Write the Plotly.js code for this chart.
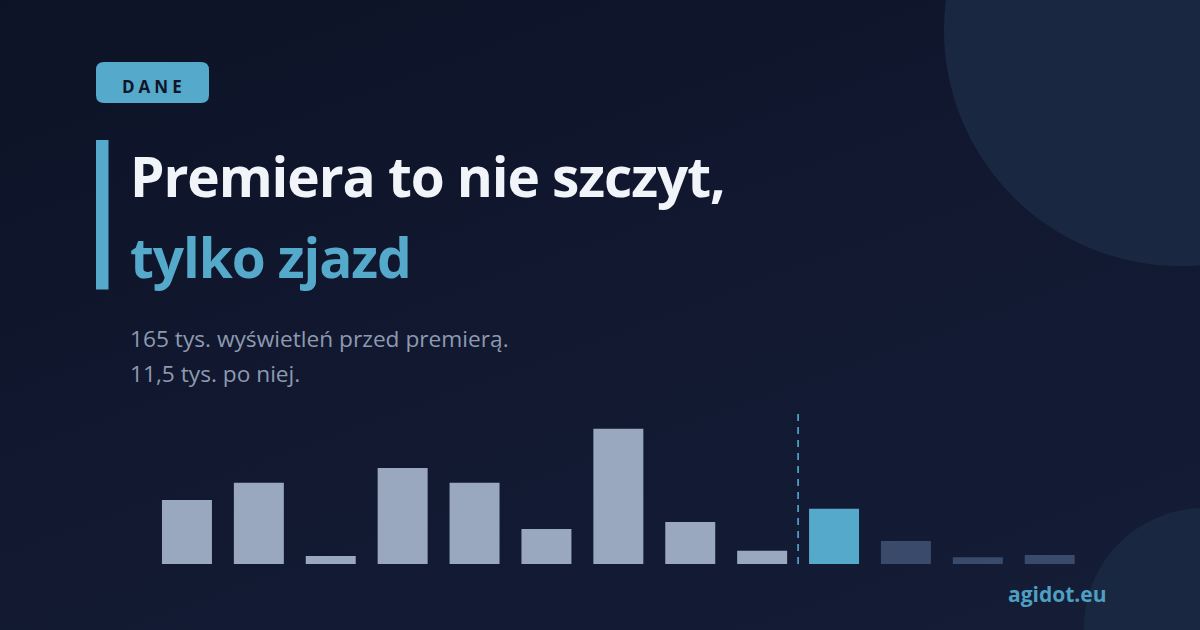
<!DOCTYPE html>
<html>
<head>
<meta charset="utf-8">
<script src="https://cdn.plot.ly/plotly-3.0.1.min.js"></script>
<style>
  html, body { margin: 0; padding: 0; }
  body { width: 1200px; height: 630px; overflow: hidden;
         background: linear-gradient(160deg, #0d1326 0%, #111830 50%, #151d37 100%); }
  #chart { width: 1200px; height: 630px; }
</style>
</head>
<body>
<div id="chart"></div>
<script>
// Views (thousands) per period; index 9 is the premiere
const periods = ['t-9','t-8','t-7','t-6','t-5','t-4','t-3','t-2','t-1','premiera','t+1','t+2','t+3'];
const views = [19.0, 24.1, 2.4, 28.5, 24.1, 10.4, 40.1, 12.5, 3.9, 16.4, 6.8, 2.0, 2.7];
const premiereIndex = 9;

const W = 1200, H = 630;
const px = x => x / W;
const py = y => 1 - y / H;

const barColors = views.map((v, i) =>
  i < premiereIndex ? '#9aa8bf' : (i === premiereIndex ? '#55a9cb' : '#3a4a6b'));

const trace = {
  type: 'bar',
  x: periods,
  y: views,
  marker: { color: barColors, line: { width: 0 } },
  hoverinfo: 'skip'
};

const FONT = '"Open Sans", "Noto Sans", sans-serif';

const layout = {
  width: W, height: H,
  margin: { l: 0, r: 0, t: 0, b: 0, pad: 0 },
  paper_bgcolor: 'rgba(0,0,0,0)',
  plot_bgcolor: 'rgba(0,0,0,0)',
  showlegend: false,
  bargap: 0.305,
  xaxis: { domain: [px(151), px(1085.7)], range: [-0.5, 12.5], visible: false, fixedrange: true },
  yaxis: { domain: [py(564), py(410)], range: [0, 45.7], visible: false, fixedrange: true },
  shapes: [
    { type: 'circle', xref: 'paper', yref: 'paper', layer: 'below',
      x0: px(1180 - 236), x1: px(1180 + 236), y0: py(30 + 236), y1: py(30 - 236),
      fillcolor: '#192840', line: { width: 0 } },
    { type: 'circle', xref: 'paper', yref: 'paper', layer: 'below',
      x0: px(1204 - 120), x1: px(1204 + 120), y0: py(628 + 120), y1: py(628 - 120),
      fillcolor: '#192840', line: { width: 0 } },
    null,
    { type: 'rect', xref: 'paper', yref: 'paper',
      x0: px(96), x1: px(108.5), y0: py(289.5), y1: py(140),
      fillcolor: '#55a9cb', line: { width: 0 } },
    { type: 'line', xref: 'x', yref: 'paper',
      x0: premiereIndex - 0.5, x1: premiereIndex - 0.5, y0: py(564), y1: py(408),
      line: { color: '#4d9cc0', width: 1.8, dash: '7px,6px' } }
  ],
  annotations: [
    { text: '<span style="letter-spacing:4px">DANE</span>', xref: 'paper', yref: 'paper',
      x: px(154), y: py(86.7), xanchor: 'center', yanchor: 'middle', showarrow: false,
      font: { family: FONT, size: 17, color: '#0e1628', weight: 700 } },
    { text: '<span style="letter-spacing:-1.1px"><b>Premiera to nie szczyt,</b></span>', xref: 'paper', yref: 'paper',
      x: px(128), y: py(175.5), xanchor: 'left', yanchor: 'middle', showarrow: false,
      font: { family: FONT, size: 55, color: '#f1f5f9' } },
    { text: '<span style="letter-spacing:-1.1px"><b>tylko zjazd</b></span>', xref: 'paper', yref: 'paper',
      x: px(128), y: py(256.5), xanchor: 'left', yanchor: 'middle', showarrow: false,
      font: { family: FONT, size: 55, color: '#55a9cb' } },
    { text: '165 tys. wyświetleń przed premierą.', xref: 'paper', yref: 'paper',
      x: px(128), y: py(338), xanchor: 'left', yanchor: 'middle', showarrow: false,
      font: { family: FONT, size: 22.7, color: '#8e9ab0' } },
    { text: '11,5 tys. po niej.', xref: 'paper', yref: 'paper',
      x: px(128), y: py(373), xanchor: 'left', yanchor: 'middle', showarrow: false,
      font: { family: FONT, size: 22.7, color: '#8e9ab0' } },
    { text: '<b>agidot.eu</b>', xref: 'paper', yref: 'paper',
      x: px(1109), y: py(593.5), xanchor: 'right', yanchor: 'middle', showarrow: false,
      font: { family: FONT, size: 21, color: '#4f9fc2' } }
  ]
};

// rounded badge as path
const r = 8, bx0 = 96, bx1 = 209, by0 = 62, by1 = 103;
layout.shapes[2] = {
  type: 'path', xref: 'paper', yref: 'paper', layer: 'below',
  path: `M ${px(bx0 + r)} ${py(by0)} L ${px(bx1 - r)} ${py(by0)} Q ${px(bx1)} ${py(by0)} ${px(bx1)} ${py(by0 + r)} ` +
        `L ${px(bx1)} ${py(by1 - r)} Q ${px(bx1)} ${py(by1)} ${px(bx1 - r)} ${py(by1)} ` +
        `L ${px(bx0 + r)} ${py(by1)} Q ${px(bx0)} ${py(by1)} ${px(bx0)} ${py(by1 - r)} ` +
        `L ${px(bx0)} ${py(by0 + r)} Q ${px(bx0)} ${py(by0)} ${px(bx0 + r)} ${py(by0)} Z`,
  fillcolor: '#55a9cb', line: { width: 0 }
};

Plotly.newPlot('chart', [trace], layout, { staticPlot: true, displayModeBar: false });
</script>
</body>
</html>
